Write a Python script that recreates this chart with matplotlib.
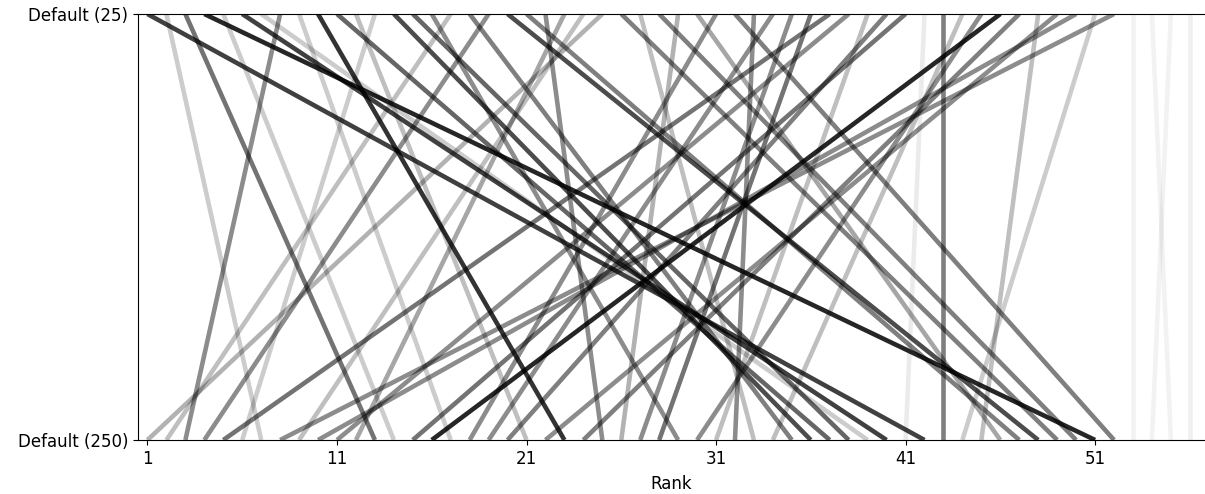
import numpy as np
import matplotlib
matplotlib.use("Agg")
import matplotlib.pyplot as plt

# rank under Default (25) -> rank under Default (250), and line opacity
top_rank = [25, 17, 8, 19, 37, 13, 2, 52, 24, 50, 38, 23, 3, 5, 41, 46, 9, 31, 34, 40,
            12, 49, 10, 47, 22, 29, 35, 36, 16, 45, 39, 33, 27, 44, 18, 14, 11, 15, 7, 6,
            42, 1, 43, 51, 48, 30, 21, 20, 26, 28, 4, 32, 53, 55, 54, 56]
bottom_rank = list(range(1, 57))
alphas = [0.3, 0.25, 0.45, 0.45, 0.55, 0.2, 0.2, 0.45, 0.25, 0.45, 0.45, 0.35, 0.55, 0.2,
          0.55, 0.85, 0.2, 0.45, 0.45, 0.5, 0.25, 0.45, 0.8, 0.5, 0.45, 0.3, 0.45, 0.55,
          0.45, 0.45, 0.25, 0.45, 0.25, 0.25, 0.5, 0.7, 0.6, 0.6, 0.2, 0.75, 0.08, 0.75,
          0.5, 0.2, 0.25, 0.35, 0.5, 0.7, 0.5, 0.5, 0.85, 0.5, 0.05, 0.05, 0.05, 0.06]

ytick_labels = ["Default (250)", "Default (25)"]
xticks = [1, 11, 21, 31, 41, 51]

fig = plt.figure(figsize=(12.05, 4.94), dpi=100)
ax = fig.add_axes([138 / 1205, 54 / 494, 1 - 138 / 1205, 426 / 494])

for t, b, a in zip(top_rank, bottom_rank, alphas):
    ax.plot([t, b], [1, 0], color="black", alpha=a, lw=3.3, solid_capstyle="butt")

ax.set_xlim(0.5, 56.8)
ax.set_ylim(0, 1)
ax.set_yticks([0, 1])
ax.set_yticklabels(ytick_labels, fontsize=12)
ax.set_xticks(xticks)
ax.set_xticklabels([str(x) for x in xticks], fontsize=12)
ax.tick_params(axis="x", pad=4)
ax.set_xlabel("Rank", fontsize=12, labelpad=5)
ax.spines["right"].set_visible(False)

fig.savefig("out.png", dpi=100)
